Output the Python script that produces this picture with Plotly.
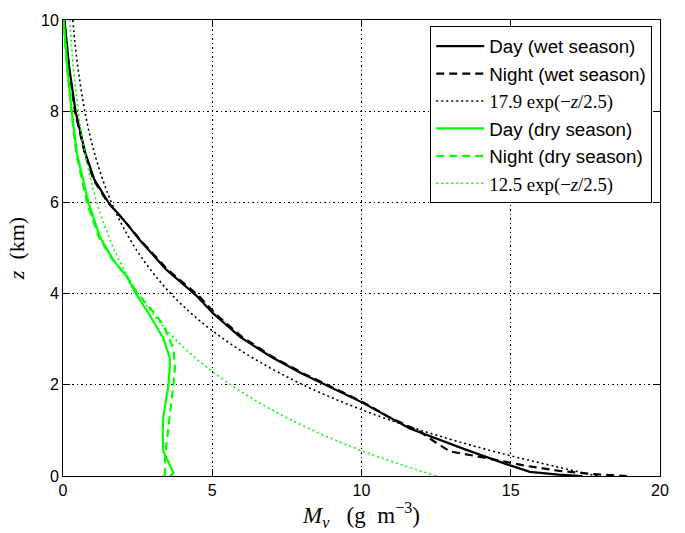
import plotly.graph_objects as go

# ---- data ----
wet_day_z = [0.0, 0.03, 0.09, 0.25, 0.6, 1.04, 1.62, 2.0, 2.25, 2.62, 3.05, 3.56, 3.95, 4.53, 5.17, 5.6, 6.0, 6.5, 7.1, 8.0, 9.0, 10.0]
wet_day_x = [17.4, 16.6, 15.64, 14.9, 13.4, 11.62, 10.0, 8.8, 8.0, 6.95, 5.93, 5.04, 4.48, 3.45, 2.58, 2.05, 1.52, 1.05, 0.74, 0.42, 0.2, 0.05]

wet_night_z = [0.0, 0.04, 0.11, 0.22, 0.42, 0.54, 0.72, 0.97, 1.3, 1.62, 2.0, 2.25, 2.62, 3.05, 3.56, 3.95, 4.53, 5.17, 5.6, 6.0, 6.5, 7.1, 8.0, 9.0, 10.0]
wet_night_x = [18.9, 17.76, 16.65, 15.54, 13.97, 12.96, 12.52, 11.96, 10.9, 10.05, 8.85, 8.05, 7.0, 6.0, 5.1, 4.55, 3.5, 2.6, 2.05, 1.5, 1.02, 0.72, 0.40, 0.19, 0.05]

dry_day_z = [0.0, 0.07, 0.54, 1.0, 1.29, 1.98, 2.3, 2.59, 3.02, 3.52, 3.99, 4.38, 4.74, 5.24, 6.0, 7.1, 8.0, 9.0, 10.0]
dry_day_x = [3.6, 3.7, 3.36, 3.34, 3.36, 3.53, 3.57, 3.58, 3.36, 2.91, 2.45, 2.13, 1.68, 1.24, 0.85, 0.46, 0.29, 0.14, 0.02]

dry_night_z = [0.0, 0.07, 0.43, 1.01, 1.72, 2.01, 2.37, 2.8, 3.3, 3.52, 4.0, 4.38, 4.74, 5.24, 6.0, 7.1, 8.0, 9.0, 10.0]
dry_night_x = [3.4, 3.42, 3.42, 3.53, 3.64, 3.70, 3.75, 3.70, 3.36, 3.14, 2.5, 2.13, 1.66, 1.2, 0.8, 0.44, 0.28, 0.13, 0.02]

fit_z = [0.0, 0.5, 1.0, 1.5, 2.0, 2.5, 3.0, 3.5, 4.0, 4.5, 5.0, 5.5, 6.0, 6.5, 7.0, 7.5, 8.0, 8.5, 9.0, 9.5, 10.0]
wet_fit_x = [17.90, 14.66, 12.00, 9.82, 8.04, 6.59, 5.39, 4.41, 3.61, 2.96, 2.42, 1.98, 1.62, 1.33, 1.09, 0.89, 0.73, 0.60, 0.49, 0.40, 0.33]
dry_fit_x = [12.50, 10.23, 8.38, 6.86, 5.62, 4.60, 3.76, 3.08, 2.52, 2.07, 1.69, 1.39, 1.13, 0.93, 0.76, 0.62, 0.51, 0.42, 0.34, 0.28, 0.23]

x_ticks = [0, 5, 10, 15, 20]
y_ticks = [0, 2, 4, 6, 8, 10]

SERIF = "Liberation Serif"
SANS = "Liberation Sans"
GREEN = "#00ff00"

def serif(s):
    return f'<span style="font-family:{SERIF}">{s}</span>'

fig = go.Figure()
fig.add_trace(go.Scatter(x=wet_day_x, y=wet_day_z, mode="lines", name="Day (wet season)",
                         line=dict(color="black", width=2.2)))
fig.add_trace(go.Scatter(x=wet_night_x, y=wet_night_z, mode="lines", name="Night (wet season)",
                         line=dict(color="black", width=2.2, dash="8px,5px")))
fig.add_trace(go.Scatter(x=wet_fit_x, y=fit_z, mode="lines", line_shape="spline",
                         name=serif("17.9 exp(−<i>z</i>/2.5)"),
                         line=dict(color="black", width=1.6, dash="2px,3px")))
fig.add_trace(go.Scatter(x=dry_day_x, y=dry_day_z, mode="lines", name="Day (dry season)",
                         line=dict(color=GREEN, width=2.2)))
fig.add_trace(go.Scatter(x=dry_night_x, y=dry_night_z, mode="lines", name="Night (dry season)",
                         line=dict(color=GREEN, width=2.2, dash="8px,5px")))
fig.add_trace(go.Scatter(x=dry_fit_x, y=fit_z, mode="lines", line_shape="spline",
                         name=serif("12.5 exp(−<i>z</i>/2.5)"),
                         line=dict(color=GREEN, width=1.6, dash="2px,3px")))

axis_common = dict(
    showline=True, linecolor="black", linewidth=1, mirror="ticks",
    ticks="inside", ticklen=7, tickwidth=1, tickcolor="black",
    showgrid=True, gridcolor="black", gridwidth=1, griddash="1.5px,3px",
    zeroline=False, tickfont=dict(family=SANS, size=16, color="black"),
)

fig.update_xaxes(range=[0, 20], tickvals=x_ticks, **axis_common,
                 title=dict(text="<i>M</i><sub><i>v</i></sub>   (g  m<sup>−3</sup>)",
                            font=dict(family=SERIF, size=23, color="black"), standoff=6))
fig.update_yaxes(range=[0, 10], tickvals=y_ticks, **axis_common,
                 title=dict(text="<i>z</i>  (km)",
                            font=dict(family=SERIF, size=22, color="black"), standoff=10))

fig.update_layout(
    width=685, height=533,
    margin=dict(l=63, r=25, t=16, b=53),
    paper_bgcolor="white", plot_bgcolor="white",
    showlegend=True,
    legend=dict(x=0.987, y=0.986, xanchor="right", yanchor="top",
                bgcolor="white", bordercolor="black", borderwidth=1,
                font=dict(family=SANS, size=18.8, color="black"),
                itemwidth=48),
)

fig.write_html("out.html")
